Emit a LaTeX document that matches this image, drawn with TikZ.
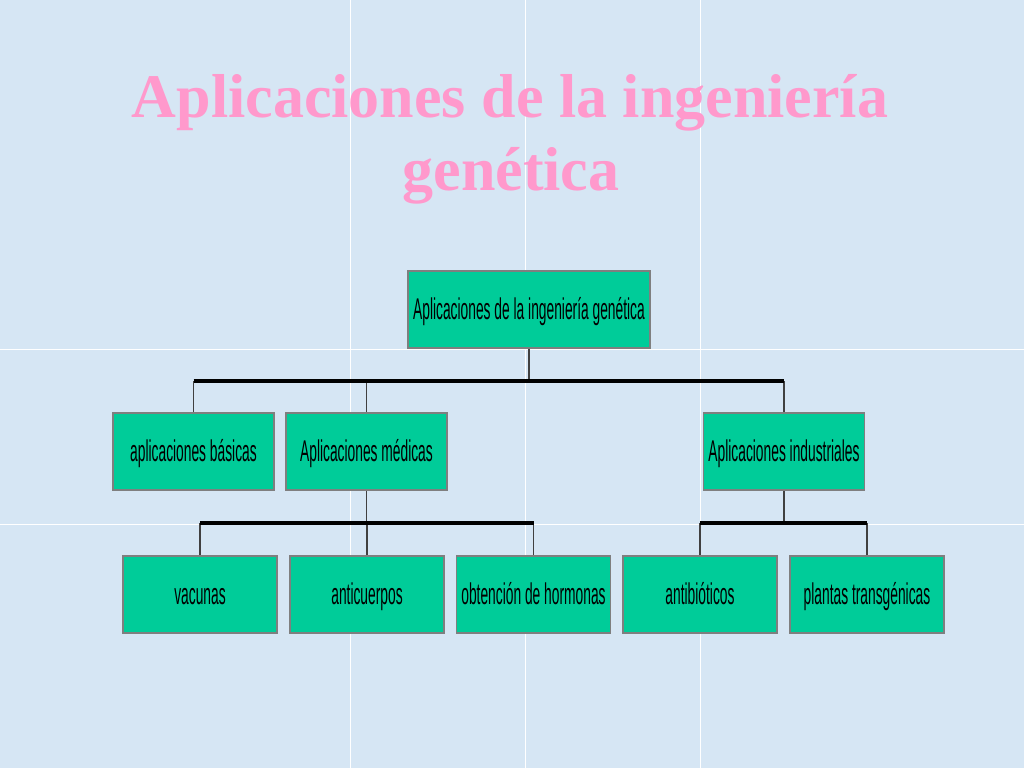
\documentclass[tikz,border=0pt]{standalone}
\usepackage{fontspec}
\usepackage{graphicx}
\setmainfont{Liberation Serif}
\newfontfamily\boxfont{Liberation Sans}
\definecolor{fondo}{HTML}{D6E6F4}
\definecolor{rosa}{HTML}{FF99CC}
\definecolor{verde}{HTML}{00CC99}
\definecolor{borde}{HTML}{7F7F7F}
\newcommand{\boxtxt}[1]{\scalebox{0.46}[1]{#1}}

\begin{document}
\begin{tikzpicture}[x=1pt,y=-1pt,
        caja/.style={draw=borde, line width=1.8pt, fill=verde, inner sep=0pt, minimum height=77pt,
            text height=24pt, text depth=5pt, font=\boxfont\fontsize{30}{36}\selectfont},
        cajaA/.style={caja, minimum width=242pt},
        cajaB/.style={caja, minimum width=161pt},
        cajaC/.style={caja, minimum width=154pt},
        titulo/.style={text=rosa, font=\bfseries\fontsize{62}{73}\selectfont, inner sep=0pt, anchor=base},
        bus/.style={draw=black, line width=3.2pt},
        bajada/.style={draw=black!75, line width=1.5pt}]
        \useasboundingbox (0,0) rectangle (1024,768);
        \fill[fondo] (0,0) rectangle (1024,768);
        \foreach \gx in {350,525,700}
            \draw[white, line width=0.7pt] (\gx,0) -- (\gx,768);
        \foreach \gy in {349,524}
            \draw[white, line width=0.7pt] (0,\gy) -- (1024,\gy);

        \node[titulo] (tit1) at (510,117) {Aplicaciones de la ingeniería};
        \node[titulo] (tit2) at (511,190) {genética};

        \node[cajaA] (raiz) at (529,309.5) {\boxtxt{Aplicaciones de la ingeniería genética}};

        \node[cajaB] (basicas) at (193.5,451.5) {\boxtxt{aplicaciones básicas}};
        \node[cajaB] (medicas) at (366.5,451.5) {\boxtxt{Aplicaciones médicas}};
        \node[cajaB] (industriales) at (784,451.5) {\boxtxt{Aplicaciones industriales}};

        \node[cajaC] (vacunas) at (200,594.5) {\boxtxt{vacunas}};
        \node[cajaC] (anticuerpos) at (367,594.5) {\boxtxt{anticuerpos}};
        \node[cajaC] (hormonas) at (533.5,594.5) {\boxtxt{obtención de hormonas}};
        \node[cajaC] (antibioticos) at (700,594.5) {\boxtxt{antibióticos}};
        \node[cajaC] (plantas) at (867,594.5) {\boxtxt{plantas transgénicas}};

        \coordinate (busA) at (529,381);
        \coordinate (busB) at (366.5,523);
        \coordinate (busC) at (784,523);

        \draw[bajada] (raiz.south) -- (raiz.south |- busA);
        \foreach \n in {basicas,medicas,industriales}
            \draw[bajada] (\n.north) -- (\n.north |- busA);
        \draw[bajada] (medicas.south) -- (medicas.south |- busB);
        \foreach \n in {vacunas,anticuerpos,hormonas}
            \draw[bajada] (\n.north) -- (\n.north |- busB);
        \draw[bajada] (industriales.south) -- (industriales.south |- busC);
        \foreach \n in {antibioticos,plantas}
            \draw[bajada] (\n.north) -- (\n.north |- busC);

        \draw[bus] (basicas.north |- busA) -- (industriales.north |- busA);
        \draw[bus] (vacunas.north |- busB) -- (hormonas.north |- busB);
        \draw[bus] (antibioticos.north |- busC) -- (plantas.north |- busC);
    \end{tikzpicture}
\end{document}
